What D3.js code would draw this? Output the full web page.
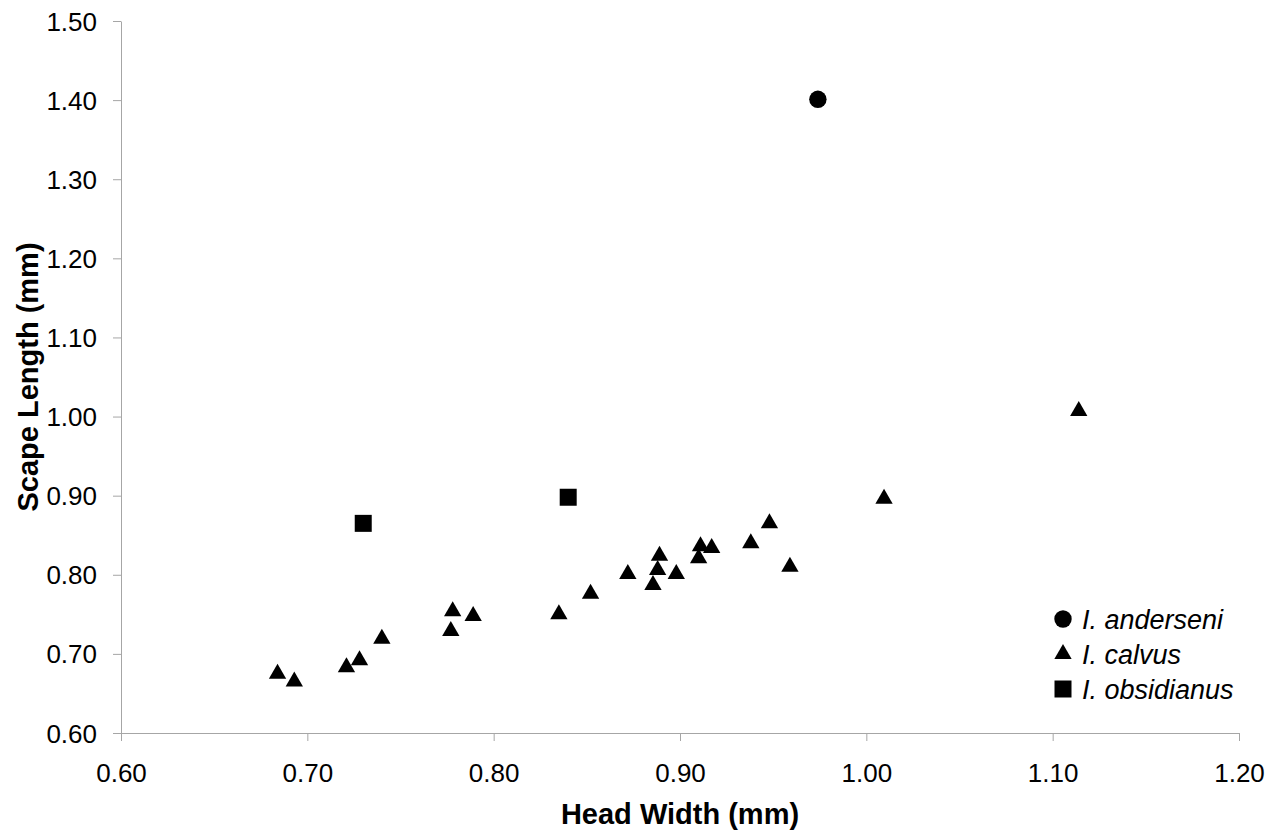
<!DOCTYPE html>
<html>
<head>
<meta charset="utf-8">
<script src="https://cdn.jsdelivr.net/npm/d3@7"></script>
<style>
  body { margin: 0; background: #fff; }
  svg { display: block; font-family: 'Liberation Sans', Arial, sans-serif; }
</style>
</head>
<body>
<svg id="chart" width="1279" height="834"></svg>
<script>
// I. anderseni
let andersenHW = [0.974]
let andersenSL = [1.401]

// I. calvus
let calvusHW = [1.114, 1.0095, 0.948, 0.938, 0.959, 0.917, 0.911, 0.910, 0.889, 0.888, 0.8855, 0.898,
  0.872, 0.852, 0.835, 0.789, 0.778, 0.777, 0.740, 0.728, 0.721, 0.693, 0.684]
let calvusSL = [1.007, 0.896, 0.865, 0.840, 0.810, 0.834, 0.836, 0.821, 0.824, 0.806, 0.787, 0.801,
  0.801, 0.776, 0.750, 0.748, 0.754, 0.729, 0.719, 0.692, 0.683, 0.665, 0.675]

// I. obsidianus
let obsidHW = [0.730, 0.840]
let obsidSL = [0.865, 0.898]

let xTicks = [0.6, 0.7, 0.8, 0.9, 1.0, 1.1, 1.2]
let yTicks = [0.6, 0.7, 0.8, 0.9, 1.0, 1.1, 1.2, 1.3, 1.4, 1.5]

let seriesNames = ['I. anderseni', 'I. calvus', 'I. obsidianus']

let margin = {top: 21, right: 40, bottom: 101, left: 121}
let width = 1239 - margin.left
let height = 733 - margin.top

let svg = d3.select('#chart')
let chart = svg.append('g')
    .attr('transform', 'translate(' + margin.left + ',' + margin.top + ')')

let x = d3.scaleLinear().domain([0.6, 1.2]).range([0, width])
let y = d3.scaleLinear().domain([0.6, 1.5]).range([height, 0])

let xAxis = d3.axisBottom(x).tickValues(xTicks).tickFormat(d3.format('.2f')).tickSize(8).tickSizeOuter(0)
let yAxis = d3.axisLeft(y).tickValues(yTicks).tickFormat(d3.format('.2f')).tickSize(8).tickSizeOuter(0)

let gx = chart.append('g')
    .attr('transform', 'translate(0,' + height + ')')
    .call(xAxis)
let gy = chart.append('g').call(yAxis)

;[gx, gy].forEach(g => {
  g.select('.domain').attr('stroke', '#a6a6a6').attr('stroke-width', 1)
  g.selectAll('.tick line').attr('stroke', '#a6a6a6')
  g.selectAll('.tick text')
    .attr('fill', '#000')
    .style('font-size', '26px')
    .style('font-family', "'Liberation Sans', Arial, sans-serif")
})
gx.selectAll('.tick text').attr('y', 49).attr('dy', 0)
gy.selectAll('.tick text').attr('x', -24).attr('dy', '0.35em')

// axis titles
chart.append('text')
    .attr('x', (x(0.6) + x(1.2)) / 2)
    .attr('y', height + 91)
    .attr('text-anchor', 'middle')
    .style('font-size', '29px')
    .style('font-weight', 'bold')
    .text('Head Width (mm)')

chart.append('text')
    .attr('transform', 'rotate(-90)')
    .attr('x', -(y(0.6) + y(1.5)) / 2)
    .attr('y', -83)
    .attr('text-anchor', 'middle')
    .style('font-size', '29px')
    .style('font-weight', 'bold')
    .text('Scape Length (mm)')

let symCircle = d3.symbol().type(d3.symbolCircle).size(Math.PI * 8.7 * 8.7)
let symTri = d3.symbol().type(d3.symbolTriangle).size(130)
let symSquare = d3.symbol().type(d3.symbolSquare).size(17 * 17)

function plot (xs, ys, sym, cls) {
  chart.selectAll('.' + cls)
      .data(xs)
    .enter().append('path')
      .attr('class', cls)
      .attr('d', sym)
      .attr('transform', (d, i) => 'translate(' + x(d) + ',' + y(ys[i]) + ')')
      .attr('fill', '#000')
}

plot(calvusHW, calvusSL, symTri, 'calvus')
plot(obsidHW, obsidSL, symSquare, 'obsid')
plot(andersenHW, andersenSL, symCircle, 'anders')

// legend
let syms = [symCircle, symTri, symSquare]
let legend = svg.append('g').attr('transform', 'translate(1063,619)')
let items = legend.selectAll('g')
    .data(seriesNames)
  .enter().append('g')
    .attr('transform', (d, i) => 'translate(0,' + i * 35 + ')')
items.append('path')
    .attr('d', (d, i) => syms[i]())
    .attr('fill', '#000')
items.append('text')
    .attr('x', 19)
    .attr('dy', '0.36em')
    .style('font-size', '27px')
    .style('font-style', 'italic')
    .text(d => d)
</script>
</body>
</html>
